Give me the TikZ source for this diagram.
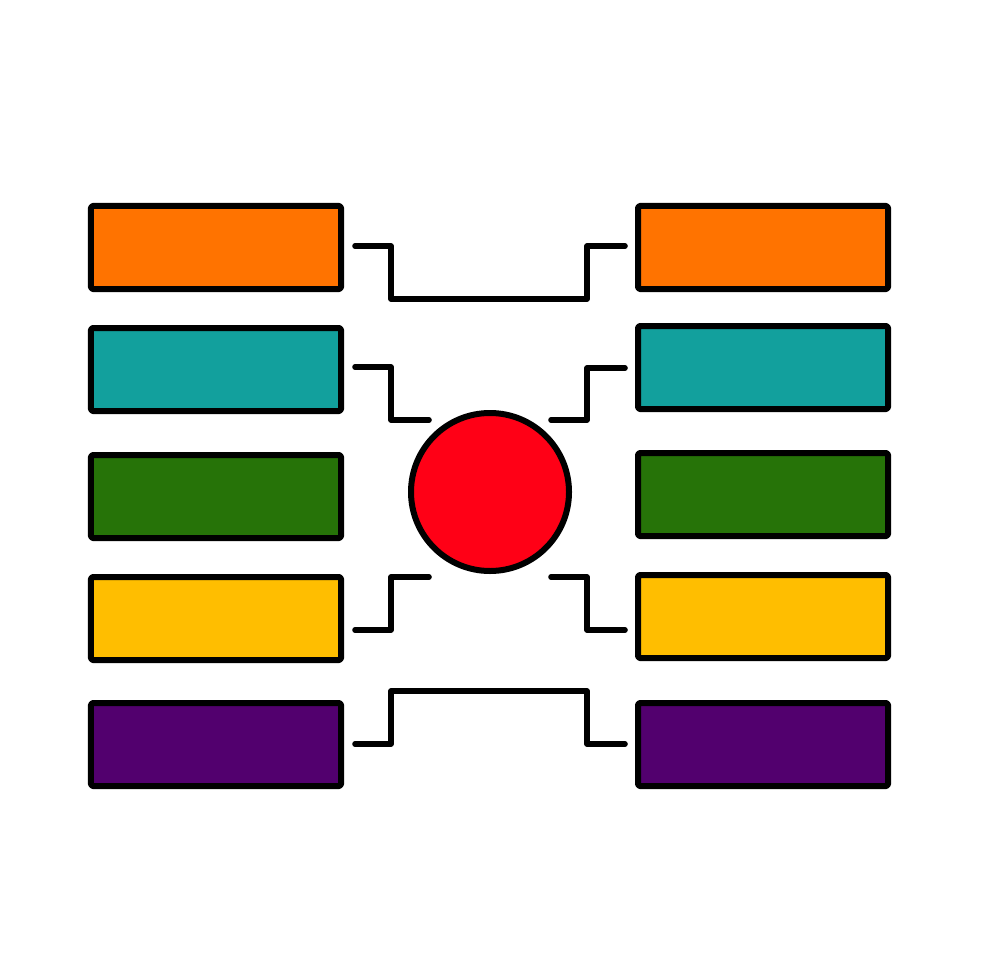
\documentclass[tikz,border=0pt]{standalone}
\definecolor{cOrange}{HTML}{FF7300}
\definecolor{cTeal}{HTML}{12A09D}
\definecolor{cGreen}{HTML}{267308}
\definecolor{cYellow}{HTML}{FFBE00}
\definecolor{cPurple}{HTML}{52006E}
\definecolor{cRed}{HTML}{FF0016}
\tikzset{
  bar/.style={draw=black, line width=1.5mm, line join=round, rounded corners=0.4mm, rectangle, inner sep=0pt, outer sep=0pt,
    minimum width=62.5mm, minimum height=20.75mm},
  link/.style={draw=black, line width=1.4mm, line cap=round, line join=round},
  hub/.style={draw=black, line width=1.5mm, circle, fill=cRed, inner sep=0pt, minimum size=39.5mm}
}
\begin{document}
\begin{tikzpicture}[x=0.25mm, y=-0.25mm]
\useasboundingbox (0,0) rectangle (980,980);
% left boxes
\node[bar, fill=cOrange] (L1) at (216,247.5) {};
\node[bar, fill=cTeal]   (L2) at (216,369.5) {};
\node[bar, fill=cGreen]  (L3) at (216,496.5) {};
\node[bar, fill=cYellow] (L4) at (216,618.5) {};
\node[bar, fill=cPurple] (L5) at (216,744.5) {};
% right boxes
\node[bar, fill=cOrange] (R1) at (763,247.5) {};
\node[bar, fill=cTeal]   (R2) at (763,367.5) {};
\node[bar, fill=cGreen]  (R3) at (763,494.5) {};
\node[bar, fill=cYellow] (R4) at (763,616.5) {};
\node[bar, fill=cPurple] (R5) at (763,744.5) {};
% hub
\node[hub] (C) at (490,492) {};
% connector end points
\coordinate (a1) at (355,246);  \coordinate (b1) at (625,246);
\coordinate (a2) at (355,367);  \coordinate (c2l) at (429,420);
\coordinate (b2) at (625,368);  \coordinate (c2r) at (551,420);
\coordinate (a4) at (355,630);  \coordinate (c4l) at (429,577);
\coordinate (b4) at (625,630);  \coordinate (c4r) at (551,577);
\coordinate (a5) at (355,744);  \coordinate (b5) at (625,744);
% connectors
\draw[link] (a1) -| (391,299) -| (587,246) -- (b1);
\draw[link] (a2) -| (391,420) -- (c2l);
\draw[link] (c2r) -| (587,368) -- (b2);
\draw[link] (a4) -| (391,577) -- (c4l);
\draw[link] (c4r) -| (587,630) -- (b4);
\draw[link] (a5) -| (391,691) -| (587,744) -- (b5);
\end{tikzpicture}
\end{document}
